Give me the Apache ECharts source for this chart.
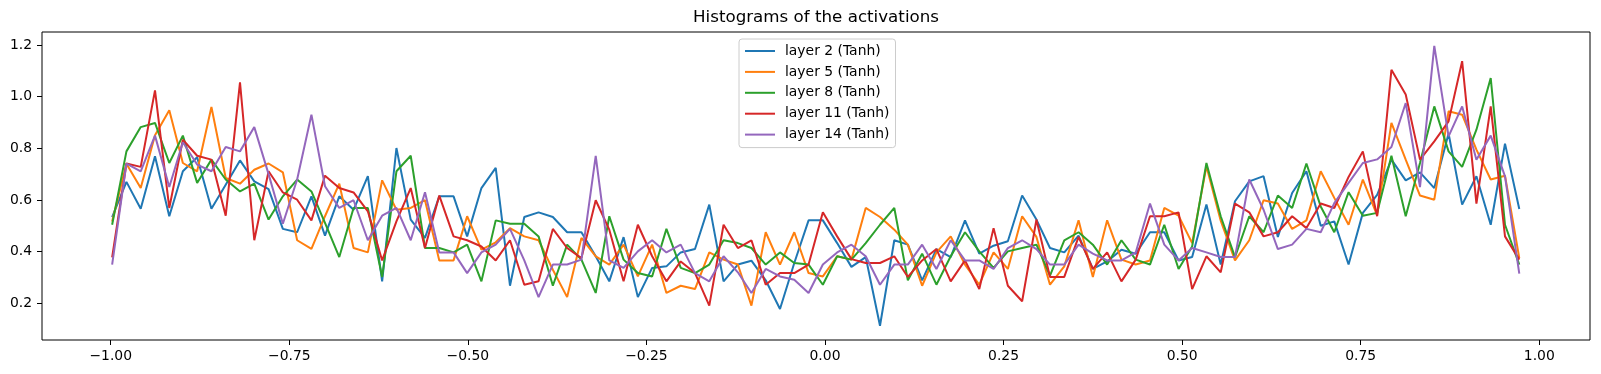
<!DOCTYPE html>
<html>
<head>
<meta charset="utf-8">
<script src="https://cdn.jsdelivr.net/npm/echarts@6/dist/echarts.min.js"></script>
<style>
html,body{margin:0;padding:0;background:#fff;}
#c{width:1601px;height:374px;}
</style>
</head>
<body>
<div id="c"></div>
<script>
// bin left edges (x)
const binEdges = [-0.998,-0.978,-0.958,-0.938,-0.918,-0.899,-0.879,-0.859,-0.839,-0.819,
-0.799,-0.779,-0.759,-0.739,-0.719,-0.700,-0.680,-0.660,-0.640,-0.620,
-0.600,-0.580,-0.560,-0.540,-0.520,-0.501,-0.481,-0.461,-0.441,-0.421,
-0.401,-0.381,-0.361,-0.341,-0.321,-0.302,-0.282,-0.262,-0.242,-0.222,
-0.202,-0.182,-0.162,-0.142,-0.122,-0.103,-0.083,-0.063,-0.043,-0.023,
-0.003,0.017,0.037,0.057,0.077,0.097,0.116,0.136,0.156,0.176,
0.196,0.216,0.236,0.256,0.276,0.296,0.315,0.335,0.355,0.375,
0.395,0.415,0.435,0.455,0.475,0.495,0.514,0.534,0.554,0.574,
0.594,0.614,0.634,0.654,0.674,0.694,0.713,0.733,0.753,0.773,
0.793,0.813,0.833,0.853,0.873,0.892,0.912,0.932,0.952,0.972];

const layer2 = [0.534,0.67,0.566,0.769,0.537,0.711,0.765,0.566,0.659,0.753,
0.672,0.642,0.488,0.475,0.614,0.462,0.614,0.562,0.692,0.285,
0.801,0.524,0.453,0.614,0.614,0.459,0.646,0.724,0.268,0.534,
0.552,0.534,0.475,0.475,0.382,0.285,0.456,0.224,0.337,0.343,
0.397,0.410,0.582,0.285,0.350,0.365,0.289,0.178,0.356,0.521,
0.521,0.433,0.341,0.379,0.113,0.444,0.427,0.289,0.410,0.379,
0.521,0.392,0.423,0.440,0.617,0.524,0.414,0.397,0.462,0.333,
0.362,0.407,0.392,0.475,0.475,0.366,0.379,0.582,0.350,0.595,
0.672,0.692,0.457,0.627,0.711,0.500,0.517,0.350,0.550,0.620,
0.756,0.676,0.707,0.646,0.857,0.582,0.692,0.504,0.818,0.565];

const layer5 = [0.517,0.74,0.646,0.85,0.947,0.743,0.711,0.96,0.685,0.663,
0.717,0.741,0.707,0.444,0.411,0.537,0.663,0.414,0.397,0.676,
0.562,0.569,0.599,0.366,0.366,0.537,0.408,0.436,0.491,0.459,
0.444,0.330,0.224,0.453,0.382,0.350,0.427,0.304,0.427,0.240,
0.268,0.255,0.397,0.369,0.350,0.191,0.475,0.350,0.475,0.317,
0.304,0.382,0.369,0.569,0.534,0.485,0.427,0.268,0.397,0.459,
0.350,0.272,0.397,0.333,0.537,0.457,0.272,0.343,0.521,0.302,
0.521,0.369,0.350,0.366,0.569,0.539,0.433,0.730,0.52,0.366,
0.444,0.599,0.586,0.488,0.521,0.711,0.608,0.504,0.679,0.540,
0.898,0.756,0.617,0.601,0.943,0.930,0.795,0.679,0.694,0.375];

const layer8 = [0.504,0.788,0.882,0.898,0.743,0.849,0.666,0.756,0.679,0.633,
0.663,0.524,0.614,0.679,0.633,0.511,0.379,0.569,0.569,0.302,
0.711,0.771,0.414,0.414,0.397,0.427,0.285,0.521,0.508,0.508,
0.459,0.268,0.427,0.369,0.240,0.537,0.369,0.317,0.304,0.488,
0.337,0.317,0.350,0.444,0.433,0.414,0.350,0.397,0.356,0.350,
0.272,0.382,0.369,0.433,0.504,0.569,0.289,0.392,0.272,0.382,
0.475,0.401,0.337,0.401,0.414,0.427,0.307,0.444,0.475,0.427,
0.350,0.444,0.369,0.350,0.504,0.333,0.420,0.743,0.537,0.379,
0.537,0.475,0.617,0.569,0.741,0.575,0.475,0.630,0.539,0.550,
0.771,0.537,0.743,0.962,0.788,0.728,0.872,1.072,0.504,0.350];

const layer11 = [0.378,0.741,0.728,1.024,0.569,0.833,0.771,0.756,0.539,1.055,
0.444,0.711,0.629,0.601,0.521,0.694,0.646,0.629,0.556,0.366,
0.517,0.646,0.414,0.617,0.459,0.444,0.420,0.366,0.444,0.272,
0.285,0.488,0.414,0.375,0.599,0.485,0.285,0.504,0.382,0.285,
0.362,0.317,0.191,0.504,0.414,0.444,0.272,0.317,0.317,0.350,
0.552,0.459,0.371,0.356,0.356,0.382,0.302,0.366,0.410,0.285,
0.366,0.255,0.491,0.268,0.208,0.524,0.302,0.302,0.457,0.333,
0.397,0.285,0.369,0.537,0.537,0.552,0.255,0.382,0.320,0.586,
0.552,0.459,0.475,0.537,0.491,0.586,0.569,0.689,0.788,0.537,
1.104,1.008,0.756,0.827,0.904,1.137,0.586,0.962,0.459,0.369];

const layer14 = [0.350,0.741,0.711,0.849,0.650,0.823,0.737,0.711,0.805,0.788,
0.882,0.70,0.508,0.679,0.930,0.653,0.569,0.599,0.444,0.539,
0.569,0.444,0.630,0.397,0.397,0.317,0.397,0.427,0.488,0.366,
0.224,0.350,0.350,0.369,0.771,0.366,0.337,0.401,0.444,0.397,
0.427,0.317,0.285,0.382,0.32,0.240,0.333,0.304,0.291,0.240,
0.350,0.397,0.427,0.382,0.272,0.350,0.350,0.427,0.333,0.444,
0.366,0.366,0.333,0.414,0.444,0.410,0.350,0.350,0.427,0.392,
0.366,0.366,0.397,0.586,0.427,0.366,0.414,0.397,0.379,0.379,
0.679,0.562,0.410,0.427,0.488,0.475,0.588,0.666,0.743,0.757,
0.805,0.975,0.650,1.196,0.846,0.962,0.756,0.849,0.691,0.315];

const xTicks = [-1.0,-0.75,-0.5,-0.25,0.0,0.25,0.5,0.75,1.0];
const yTicks = [0.2,0.4,0.6,0.8,1.0,1.2];
const seriesNames = ['layer 2 (Tanh)','layer 5 (Tanh)','layer 8 (Tanh)','layer 11 (Tanh)','layer 14 (Tanh)'];
const seriesValues = [layer2, layer5, layer8, layer11, layer14];
const colors = ['#1f77b4','#ff7f0e','#2ca02c','#d62728','#9467bd'];

const FONT = 'DejaVu Sans';
const fmt = (v, d) => { const s = Math.abs(v).toFixed(d); return (v < -1e-9 ? '\u2212' : '') + s; };

const chart = echarts.init(document.getElementById('c'), null, {renderer: 'canvas'});
chart.setOption({
  animation: false,
  backgroundColor: '#fff',
  color: colors,
  title: {
    text: 'Histograms of the activations',
    left: 816, top: 9, padding: 0, textAlign: 'center',
    textStyle: {fontFamily: FONT, fontSize: 16.7, fontWeight: 'normal', color: '#000'}
  },
  legend: {
    orient: 'vertical', left: 739, top: 39,
    padding: [5, 6, 6, 5],
    itemWidth: 30, itemHeight: 14, itemGap: 6.9,
    backgroundColor: 'rgba(255,255,255,0.8)',
    borderColor: '#cccccc', borderWidth: 1, borderRadius: 3,
    itemStyle: {opacity: 0, borderWidth: 0},
    textStyle: {fontFamily: FONT, fontSize: 13.9, color: '#000', padding: [0,0,0,5]},
    data: seriesNames
  },
  grid: {left: 42, right: 11, top: 32, bottom: 34, show: true, borderColor: '#000', borderWidth: 1, backgroundColor: 'transparent'},
  xAxis: {
    type: 'value', min: -1.0962, max: 1.0710,
    axisLine: {show: false, onZero: false},
    splitLine: {show: false},
    axisTick: {show: true, inside: false, length: 5, lineStyle: {color: '#000', width: 1}, customValues: xTicks},
    axisLabel: {show: true, margin: 9, fontFamily: FONT, fontSize: 13.9, color: '#000', customValues: xTicks,
      formatter: v => fmt(v, 2)}
  },
  yAxis: {
    type: 'value', min: 0.058, max: 1.250,
    axisLine: {show: false, onZero: false},
    splitLine: {show: false},
    axisTick: {show: true, inside: false, length: 5, lineStyle: {color: '#000', width: 1}, customValues: yTicks},
    axisLabel: {show: true, margin: 10, fontFamily: FONT, fontSize: 13.9, color: '#000', customValues: yTicks,
      formatter: v => fmt(v, 1)}
  },
  series: seriesNames.map((name, k) => ({
    name: name, type: 'line', symbol: 'none', showSymbol: false,
    lineStyle: {width: 2, color: colors[k]},
    itemStyle: {color: colors[k]},
    data: binEdges.map((x, i) => [x, seriesValues[k][i]])
  }))
});
</script>
</body>
</html>
